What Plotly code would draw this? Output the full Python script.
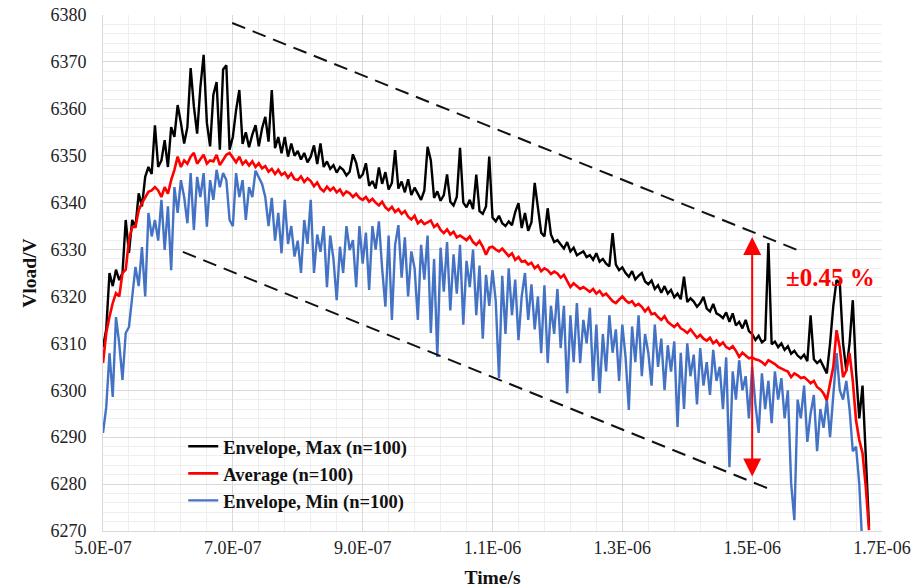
import plotly.graph_objects as go

# sample times in ns (5 ns grid)
t_ns = list(range(500, 1685, 5))

v_max = [
    6309.2, 6313.0, 6325.0, 6322.2, 6325.7, 6323.5, 6325.0, 6336.3, 6329.3, 6336.3,
    6334.8, 6342.0, 6339.2, 6345.5, 6347.6, 6346.1, 6356.5, 6347.6, 6349.0, 6353.3,
    6347.6, 6356.1, 6354.0, 6360.8, 6357.0, 6352.6, 6356.1, 6368.7, 6360.5, 6354.7,
    6364.6, 6371.5, 6357.0, 6352.0, 6363.0, 6365.7, 6351.3, 6368.4, 6369.3, 6351.3,
    6354.0, 6359.7, 6364.0, 6352.5, 6355.0, 6351.8, 6354.5, 6356.5, 6352.0, 6355.8,
    6358.3, 6353.0, 6364.0, 6351.6, 6354.0, 6350.5, 6354.0, 6349.8, 6352.6, 6350.0,
    6351.0, 6349.2, 6350.6, 6348.6, 6349.8, 6352.2, 6348.2, 6352.6, 6347.6, 6348.8,
    6347.2, 6348.0, 6346.4, 6347.6, 6347.0, 6345.8, 6346.6, 6350.3, 6348.5, 6345.2,
    6346.0, 6348.4, 6343.6, 6344.6, 6343.0, 6347.5, 6344.0, 6346.5, 6342.8, 6344.2,
    6351.2, 6343.0, 6344.5, 6342.2, 6345.0, 6341.6, 6343.2, 6341.8, 6340.6, 6342.6,
    6351.9, 6349.0, 6341.0, 6342.4, 6340.4, 6341.6, 6346.0, 6340.2, 6339.4, 6341.2,
    6351.7, 6340.0, 6339.0, 6340.6, 6338.6, 6346.0, 6338.2, 6337.6, 6339.2, 6349.8,
    6336.8, 6336.0, 6337.2, 6335.6, 6335.0, 6336.0, 6335.2, 6338.0, 6339.9, 6334.6,
    6337.8, 6334.0, 6335.8, 6344.2, 6339.0, 6333.6, 6332.8, 6338.8, 6333.2, 6331.6,
    6332.0, 6331.0, 6330.2, 6331.6, 6329.6, 6330.4, 6328.8, 6329.2, 6329.6, 6328.4,
    6328.8, 6327.8, 6329.2, 6327.4, 6328.0, 6327.0, 6326.4, 6333.5, 6326.8, 6325.6,
    6326.2, 6325.0, 6324.2, 6325.4, 6323.6, 6324.4, 6325.0, 6323.2, 6322.6, 6323.4,
    6321.6, 6322.4, 6320.8, 6322.2, 6320.6, 6321.4, 6319.8, 6320.6, 6319.4, 6324.2,
    6318.8, 6319.6, 6318.9, 6317.8, 6318.6, 6319.9, 6317.4, 6316.8, 6318.4, 6316.4,
    6316.0, 6315.4, 6316.6, 6314.6, 6316.4, 6313.8, 6314.6, 6313.2, 6315.0, 6312.6,
    6312.0, 6310.7, 6311.6, 6310.2, 6310.8, 6331.4, 6309.8, 6310.4, 6309.2, 6310.0,
    6308.6, 6309.4, 6307.8, 6308.4, 6307.4, 6306.8, 6307.6, 6306.2, 6316.0, 6306.6,
    6305.8, 6306.4, 6304.8, 6303.6, 6310.0, 6318.0, 6323.5, 6322.8, 6310.0, 6304.2,
    6310.0, 6319.2, 6304.0, 6294.0, 6301.0, 6285.0, 6271.0,
]

v_avg = [
    6305.8, 6312.2, 6315.7, 6318.6, 6320.7, 6320.0, 6325.0, 6325.7, 6332.0, 6334.8,
    6334.8, 6338.4, 6339.9, 6341.2, 6342.3, 6342.6, 6343.3, 6342.6, 6341.2, 6343.3,
    6341.9, 6344.8, 6347.0, 6349.8, 6347.6, 6349.0, 6348.3, 6349.8, 6350.6, 6348.3,
    6349.4, 6350.2, 6348.3, 6349.0, 6348.8, 6350.2, 6348.0, 6349.0, 6350.2, 6350.6,
    6349.5, 6348.6, 6349.8, 6348.2, 6348.9, 6347.9, 6348.8, 6347.6, 6348.4, 6347.3,
    6347.8, 6346.6, 6347.2, 6346.1, 6347.0, 6345.9, 6346.4, 6345.3, 6346.2, 6345.0,
    6344.8, 6345.6, 6344.4, 6345.2, 6344.6, 6343.5, 6344.3, 6343.0, 6342.4, 6343.4,
    6342.6, 6343.2, 6342.2, 6342.8, 6341.6, 6342.4, 6342.0, 6341.2, 6341.9, 6341.0,
    6340.6, 6341.2, 6340.2, 6340.8, 6340.0, 6339.4, 6340.2, 6339.0, 6338.4, 6339.1,
    6338.0, 6338.6, 6337.6, 6338.2, 6337.0, 6336.4, 6337.2, 6335.6, 6336.2, 6335.4,
    6335.8, 6336.2, 6334.8, 6335.4, 6334.2, 6333.5, 6334.3, 6333.2, 6333.8, 6332.6,
    6333.0, 6332.4, 6332.0, 6332.8, 6331.6, 6331.0, 6331.8, 6330.6, 6328.9, 6330.4,
    6330.6, 6330.0, 6329.6, 6330.2, 6329.4, 6328.6, 6329.2, 6327.8, 6328.4, 6327.4,
    6327.6, 6326.8, 6327.2, 6326.0, 6326.6, 6325.4, 6326.0, 6325.6, 6324.8, 6325.3,
    6324.9, 6324.0, 6324.6, 6323.4, 6322.0, 6322.8, 6322.2, 6321.6, 6322.0, 6321.4,
    6321.0, 6321.6, 6320.6, 6321.2, 6320.2, 6320.6, 6319.9, 6319.0, 6318.6, 6319.4,
    6320.0, 6319.2, 6318.6, 6319.0, 6318.0, 6318.4, 6317.8, 6316.8, 6317.6, 6316.2,
    6316.4, 6315.6, 6315.0, 6315.8, 6314.6, 6314.0, 6313.5, 6314.2, 6313.2, 6312.8,
    6312.2, 6313.0, 6312.0, 6311.2, 6311.8, 6311.0, 6310.6, 6311.2, 6310.0, 6310.6,
    6309.6, 6310.2, 6309.2, 6308.8, 6309.4, 6308.4, 6307.1, 6308.0, 6307.4, 6306.8,
    6307.0, 6306.6, 6306.4, 6306.0, 6305.4, 6306.4, 6306.0, 6305.6, 6305.0, 6304.6,
    6304.3, 6304.0, 6302.8, 6303.6, 6303.2, 6302.6, 6302.8, 6302.2, 6301.5, 6302.0,
    6300.7, 6300.2, 6299.3, 6297.9, 6301.2, 6305.0, 6312.8, 6309.0, 6302.8, 6304.2,
    6307.9, 6302.0, 6293.6, 6289.4, 6286.6, 6279.4, 6270.2,
]

v_min = [
    6290.9, 6296.4, 6307.9, 6298.6, 6315.6, 6310.0, 6302.2, 6312.2, 6313.5, 6320.7,
    6326.3, 6322.2, 6330.5, 6320.0, 6337.8, 6332.8, 6336.3, 6331.9, 6340.6, 6329.9,
    6339.2, 6325.6, 6343.3, 6337.8, 6344.8, 6341.2, 6335.6, 6346.3, 6334.2, 6345.5,
    6341.2, 6346.3, 6334.9, 6344.8, 6340.6, 6347.0, 6343.3, 6346.3, 6344.8, 6336.3,
    6335.0, 6346.3, 6341.2, 6344.8, 6336.3, 6343.3, 6341.2, 6346.8, 6345.5, 6344.0,
    6341.2, 6335.0, 6341.0, 6331.9, 6337.8, 6329.2, 6340.6, 6331.2, 6335.0, 6328.5,
    6331.9, 6325.0, 6336.3, 6331.2, 6340.6, 6325.0, 6333.2, 6329.5, 6335.0, 6322.0,
    6333.0, 6328.0, 6319.2, 6330.6, 6325.0, 6335.0, 6329.9, 6332.0, 6322.0, 6335.0,
    6327.0, 6333.6, 6321.4, 6335.0, 6330.0, 6336.0, 6326.0, 6317.8, 6333.0, 6315.0,
    6331.0, 6335.2, 6324.0, 6332.6, 6320.0, 6329.6, 6326.0, 6315.0, 6331.0, 6323.6,
    6333.0, 6312.2, 6328.0, 6307.1, 6330.4, 6321.0, 6331.6, 6317.0, 6329.0, 6320.6,
    6331.0, 6314.0, 6327.6, 6322.0, 6330.0, 6316.0, 6326.6, 6311.0, 6324.6, 6318.0,
    6325.6, 6319.0, 6302.6, 6324.4, 6312.0, 6326.0, 6316.0, 6323.6, 6310.7, 6320.0,
    6325.0, 6315.0, 6322.6, 6313.0, 6320.0, 6307.9, 6322.4, 6305.8, 6318.0, 6312.0,
    6321.6, 6309.0, 6318.0, 6299.4, 6316.0, 6306.0, 6318.6, 6305.8, 6315.0, 6310.0,
    6317.6, 6302.0, 6314.0, 6299.4, 6312.0, 6304.0, 6316.0, 6308.0, 6313.0, 6302.0,
    6314.0, 6307.0, 6295.8, 6313.6, 6306.0, 6316.0, 6303.0, 6312.0, 6308.0, 6301.0,
    6314.0, 6305.0, 6311.0, 6300.0, 6309.6, 6304.0, 6310.4, 6292.2, 6308.0, 6296.0,
    6310.0, 6303.0, 6307.6, 6297.0, 6309.0, 6301.0, 6306.0, 6299.0, 6308.6, 6302.0,
    6305.0, 6296.0, 6307.0, 6283.6, 6304.0, 6298.0, 6306.4, 6300.0, 6303.0, 6294.0,
    6305.0, 6297.0, 6290.9, 6303.6, 6296.0, 6302.0, 6293.0, 6304.0, 6298.0, 6302.6,
    6294.0, 6300.0, 6280.2, 6272.3, 6298.0, 6294.0, 6301.0, 6289.0, 6295.0, 6299.0,
    6287.0, 6296.0, 6292.0, 6298.0, 6290.0, 6299.0, 6307.9, 6300.0, 6298.0, 6302.0,
    6296.0, 6287.0, 6288.0, 6280.0, 6266.0, None, None,
]

x_tick_vals = [5e-7, 7e-7, 9e-7, 1.1e-6, 1.3e-6, 1.5e-6, 1.7e-6]
x_tick_text = ["5.0E-07", "7.0E-07", "9.0E-07", "1.1E-06", "1.3E-06", "1.5E-06", "1.7E-06"]

t_s = [t * 1e-9 for t in t_ns]

SERIF = "Liberation Serif"

fig = go.Figure()
fig.add_trace(go.Scatter(x=t_s, y=v_max, mode="lines", name="<b>Envelope, Max (n=100)</b>",
                         line=dict(color="#000000", width=2.4), legendrank=1))
fig.add_trace(go.Scatter(x=t_s, y=v_min, mode="lines", name="<b>Envelope, Min (n=100)</b>",
                         line=dict(color="#4472C4", width=2.4), legendrank=3))
fig.add_trace(go.Scatter(x=t_s, y=v_avg, mode="lines", name="<b>Average (n=100)</b>",
                         line=dict(color="#FF0000", width=2.6), legendrank=2))

# dashed trend lines
fig.add_shape(type="line", xref="x", yref="y", x0=6.99e-7, y0=6378.3, x1=1.577e-6, y1=6329.5,
              line=dict(color="#111111", width=2, dash="14px,8px"))
fig.add_shape(type="line", xref="x", yref="y", x0=6.23e-7, y0=6329.5, x1=1.524e-6, y1=6279.1,
              line=dict(color="#111111", width=2, dash="14px,8px"))

# red double arrow
fig.add_annotation(x=1.5e-6, y=6332.7, ax=1.5e-6, ay=6281.3, xref="x", yref="y",
                   axref="x", ayref="y", text="", showarrow=True,
                   arrowhead=2, startarrowhead=2, arrowside="end+start",
                   arrowsize=1.8, startarrowsize=1.8, arrowwidth=2, arrowcolor="#FF0000")
fig.add_annotation(x=1.62e-6, y=6324.0, xref="x", yref="y", text="<b>±0.45 %</b>",
                   showarrow=False, font=dict(family=SERIF, size=25, color="#FF0000"))

fig.update_layout(
    width=924, height=588,
    margin=dict(l=103, r=42, t=15, b=57, autoexpand=False),
    paper_bgcolor="white", plot_bgcolor="white",
    font=dict(family=SERIF, size=18, color="#222222"),
    showlegend=True,
    legend=dict(x=0.103, y=0.2, xanchor="left", yanchor="top",
                bgcolor="rgba(0,0,0,0)", font=dict(family=SERIF, size=18.5, color="#111111"),
                tracegroupgap=0, itemwidth=30),
    xaxis=dict(range=[5e-7, 1.7e-6], tickmode="array", tickvals=x_tick_vals, ticktext=x_tick_text,
               showgrid=True, gridcolor="#D9D9D9", gridwidth=1, zeroline=False,
               showline=True, linecolor="#D9D9D9", ticks="", ticklen=0, automargin=False,
               minor=dict(dtick=4e-8, tick0=5e-7, showgrid=True, gridcolor="#EFEFEF", gridwidth=1),
               title=dict(text="<b>Time/s</b>", font=dict(family=SERIF, size=19.5, color="#111111"), standoff=14),
               tickfont=dict(family=SERIF, size=18, color="#222222")),
    yaxis=dict(range=[6270, 6380], dtick=10, tick0=6270,
               showgrid=True, gridcolor="#D9D9D9", gridwidth=1, zeroline=False,
               showline=True, linecolor="#D9D9D9", ticks="", ticklen=0, automargin=False,
               ticklabelstandoff=12,
               minor=dict(dtick=2, tick0=6270, showgrid=True, gridcolor="#EFEFEF", gridwidth=1),
               title=dict(text="<b>Vload/V</b>", font=dict(family=SERIF, size=19.5, color="#111111"), standoff=8),
               tickfont=dict(family=SERIF, size=18, color="#222222")),
)

fig.write_html("out.html", config={"displayModeBar": False},
               post_script="document.body.style.margin='0';")
